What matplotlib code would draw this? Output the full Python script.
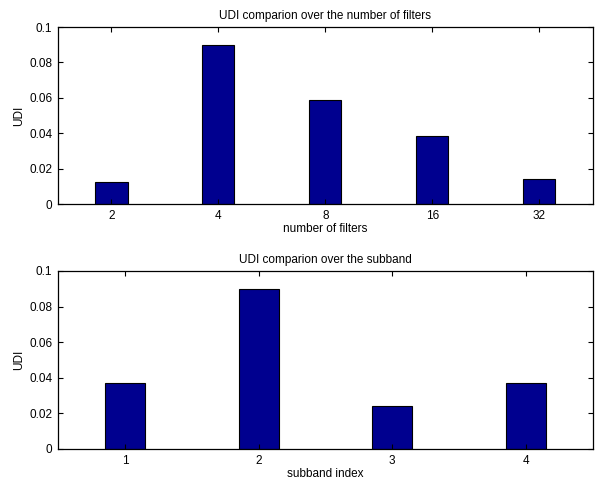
import matplotlib
matplotlib.use('Agg')
import matplotlib.pyplot as plt

filter_labels = ['2', '4', '8', '16', '32']
filter_udi = [0.0123, 0.0900, 0.0588, 0.0386, 0.0140]

subband_labels = ['1', '2', '3', '4']
subband_udi = [0.0373, 0.0900, 0.0243, 0.0373]

plt.rcParams['font.family'] = ['Liberation Sans', 'DejaVu Sans']
plt.rcParams['font.size'] = 8.5

BAR_COLOR = '#00008f'


def draw_panel(ax, labels, values, title, xlabel):
    pos = list(range(1, len(values) + 1))
    ax.bar(pos, values, width=0.3, color=BAR_COLOR, edgecolor='black', linewidth=0.8)
    ax.set_xlim(0.5, len(values) + 0.5)
    ax.set_ylim(0, 0.1)
    ax.set_xticks(pos)
    ax.set_xticklabels(labels)
    ax.set_yticks([0, 0.02, 0.04, 0.06, 0.08, 0.1])
    ax.set_yticklabels(['0', '0.02', '0.04', '0.06', '0.08', '0.1'])
    ax.tick_params(direction='in', top=True, right=True, length=3.5, width=0.8, pad=4)
    for s in ax.spines.values():
        s.set_linewidth(0.9)
    ax.set_title(title, fontsize=8.5, pad=6)
    ax.set_xlabel(xlabel, labelpad=1)
    ax.set_ylabel('UDI', labelpad=3)


fig = plt.figure(figsize=(6.0, 4.83), dpi=100)
ax1 = fig.add_axes([0.0967, 0.5776, 0.8913, 0.3664])
ax2 = fig.add_axes([0.0967, 0.0704, 0.8913, 0.3686])

draw_panel(ax1, filter_labels, filter_udi, 'UDI comparion over the number of filters', 'number of filters')
draw_panel(ax2, subband_labels, subband_udi, 'UDI comparion over the subband', 'subband index')

fig.savefig('out.png', dpi=100)
